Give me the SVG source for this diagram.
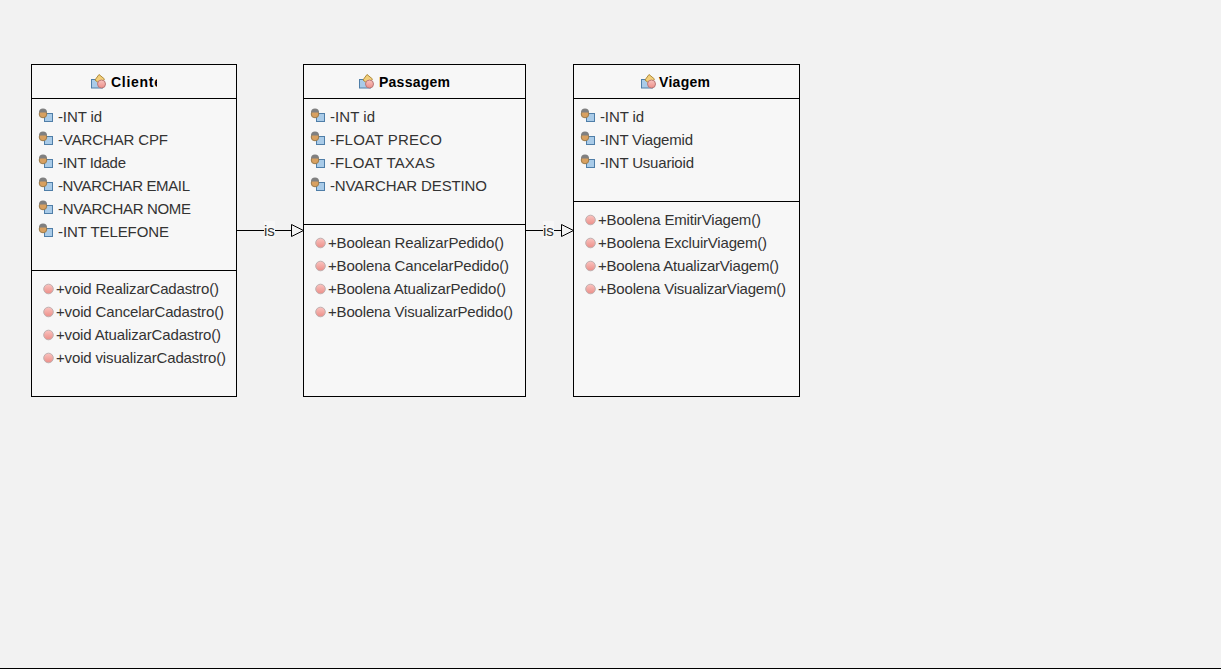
<svg xmlns="http://www.w3.org/2000/svg" width="1221" height="669" viewBox="0 0 1221 669">
<style>
.box{fill:#f7f7f7;stroke:#000;stroke-width:1}
.sep{stroke:#000;stroke-width:1;fill:none}
text{font-family:"Liberation Sans",Arial,sans-serif;font-size:15px;fill:#333}
.t{font-weight:bold;font-size:14px;fill:#000}
.c{stroke:#000;stroke-width:1;fill:none}
.h{fill:#f2f2f2;stroke:#000;stroke-width:1}
</style>
<defs>
<clipPath id="clipCliente"><rect x="90" y="70" width="67" height="24"/></clipPath>
<linearGradient id="red" x1="0" y1="0" x2="0" y2="1"><stop offset="0" stop-color="#fac4c0"/><stop offset="1" stop-color="#ec8e88"/></linearGradient>
<g id="attr">
<rect x="0.500" y="-1.500" width="8" height="8" fill="#a9cbe8" stroke="#4f7ea8" stroke-width="1"/>
<circle cx="-1" cy="-1" r="3.800" fill="#d8a060" stroke="#9a7a4a" stroke-width="1"/>
<path d="M-5 -2.500A4 4 0 0 1 3 -2.500Z" fill="#808080"/>
</g>
<g id="op"><circle cx="0.500" cy="0" r="4.800" fill="url(#red)" stroke="#c0b0b0" stroke-width="1"/></g>
<g id="cls">
<rect x="-6.500" y="-1.500" width="11" height="8.500" fill="#a9cbe8" stroke="#4f7ea8" stroke-width="1"/>
<path d="M-3 -1L1 -6.500L6.500 -2L2 3Z" fill="#f2cf7a" stroke="#b08a3a" stroke-width="1"/>
<circle cx="3.500" cy="3" r="4" fill="url(#red)" stroke="#b87878" stroke-width="1"/>
</g>
</defs>
<rect width="1221" height="669" fill="#f2f2f2"/>
<line x1="0" y1="668.500" x2="1221" y2="668.500" stroke="#000"/>

<g id="connectors">
<line class="c" x1="237" y1="230.500" x2="292" y2="230.500"/>
<path class="h" d="M291.500 224.500L303.500 230.500L291.500 236.500Z"/>
<rect x="264" y="221" width="11" height="18" fill="#f7f7f7"/>
<text x="264" y="236">is</text>
<line class="c" x1="526" y1="230.500" x2="562" y2="230.500"/>
<path class="h" d="M561.500 224.500L573.500 230.500L561.500 236.500Z"/>
<rect x="543" y="221" width="11" height="18" fill="#f7f7f7"/>
<text x="543" y="236">is</text>
</g>

<g id="cliente">
<rect class="box" x="31.500" y="64.500" width="205" height="332"/>
<line class="sep" x1="31" y1="98.500" x2="237" y2="98.500"/>
<line class="sep" x1="31" y1="270.500" x2="237" y2="270.500"/>
<use href="#cls" x="98" y="81"/>
<text class="t" x="111" y="87" clip-path="url(#clipCliente)" textLength="51">Cliente</text>
<use href="#attr" x="44" y="115"/><text x="58" y="122" textLength="44">-INT id</text>
<use href="#attr" x="44" y="138"/><text x="58" y="145" textLength="110">-VARCHAR CPF</text>
<use href="#attr" x="44" y="161"/><text x="58" y="168" textLength="68">-INT Idade</text>
<use href="#attr" x="44" y="184"/><text x="58" y="191" textLength="132">-NVARCHAR EMAIL</text>
<use href="#attr" x="44" y="207"/><text x="58" y="214" textLength="133">-NVARCHAR NOME</text>
<use href="#attr" x="44" y="230"/><text x="58" y="237" textLength="111">-INT TELEFONE</text>
<use href="#op" x="48" y="289"/><text x="56" y="294" textLength="163">+void RealizarCadastro()</text>
<use href="#op" x="48" y="312"/><text x="56" y="317" textLength="168">+void CancelarCadastro()</text>
<use href="#op" x="48" y="335"/><text x="56" y="340" textLength="165">+void AtualizarCadastro()</text>
<use href="#op" x="48" y="358"/><text x="56" y="363" textLength="170">+void visualizarCadastro()</text>
</g>

<g id="passagem">
<rect class="box" x="303.500" y="64.500" width="222" height="332"/>
<line class="sep" x1="303" y1="98.500" x2="526" y2="98.500"/>
<line class="sep" x1="303" y1="224.500" x2="526" y2="224.500"/>
<use href="#cls" x="366" y="81"/>
<text class="t" x="379" y="87" textLength="71">Passagem</text>
<use href="#attr" x="316" y="115"/><text x="330" y="122" textLength="45">-INT id</text>
<use href="#attr" x="316" y="138"/><text x="330" y="145" textLength="112">-FLOAT PRECO</text>
<use href="#attr" x="316" y="161"/><text x="330" y="168" textLength="105">-FLOAT TAXAS</text>
<use href="#attr" x="316" y="184"/><text x="330" y="191" textLength="157">-NVARCHAR DESTINO</text>
<use href="#op" x="320" y="243"/><text x="328" y="248" textLength="176">+Boolean RealizarPedido()</text>
<use href="#op" x="320" y="266"/><text x="328" y="271" textLength="181">+Boolena CancelarPedido()</text>
<use href="#op" x="320" y="289"/><text x="328" y="294" textLength="178">+Boolena AtualizarPedido()</text>
<use href="#op" x="320" y="312"/><text x="328" y="317" textLength="185">+Boolena VisualizarPedido()</text>
</g>

<g id="viagem">
<rect class="box" x="573.500" y="64.500" width="226" height="332"/>
<line class="sep" x1="573" y1="98.500" x2="800" y2="98.500"/>
<line class="sep" x1="573" y1="201.500" x2="800" y2="201.500"/>
<use href="#cls" x="648" y="81"/>
<text class="t" x="659" y="87" textLength="51">Viagem</text>
<use href="#attr" x="586" y="115"/><text x="600" y="122" textLength="44">-INT id</text>
<use href="#attr" x="586" y="138"/><text x="600" y="145" textLength="93">-INT Viagemid</text>
<use href="#attr" x="586" y="161"/><text x="600" y="168" textLength="94">-INT Usuarioid</text>
<use href="#op" x="590" y="220"/><text x="598" y="225" textLength="163">+Boolena EmitirViagem()</text>
<use href="#op" x="590" y="243"/><text x="598" y="248" textLength="169">+Boolena ExcluirViagem()</text>
<use href="#op" x="590" y="266"/><text x="598" y="271" textLength="181">+Boolena AtualizarViagem()</text>
<use href="#op" x="590" y="289"/><text x="598" y="294" textLength="188">+Boolena VisualizarViagem()</text>
</g>
</svg>
